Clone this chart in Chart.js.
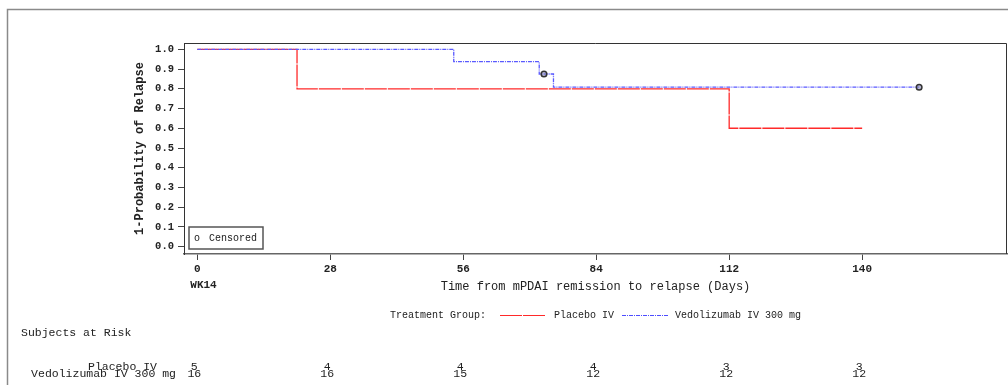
<!DOCTYPE html>
<html>
<head>
<meta charset="utf-8">
<script src="https://cdn.jsdelivr.net/npm/chart.js@4"></script>
<style>
  body { margin: 0; background: #fff; }
  #wrap { width: 1008px; height: 385px; }
</style>
</head>
<body>
<div id="wrap"><canvas id="kmChart" width="1008" height="385"></canvas></div>
<script>
// Kaplan-Meier step values
const groupNames = ['Placebo IV', 'Vedolizumab IV 300 mg'];
const placeboDays = [0, 21, 112, 140];
const placeboSurv = [1.0, 0.8, 0.6, 0.6];
const vedoDays = [0, 54, 72, 75, 152];
const vedoSurv = [1.0, 0.9375, 0.875, 0.808, 0.808];
const censorDays = [73, 152];
const censorSurv = [0.875, 0.808];

const xTicks = [0, 28, 56, 84, 112, 140];
const xTickLabels = ['0', '28', '56', '84', '112', '140'];
const yTicks = [0, 0.1, 0.2, 0.3, 0.4, 0.5, 0.6, 0.7, 0.8, 0.9, 1.0];

const atRiskPlacebo = [5, 4, 4, 4, 3, 3];
const atRiskVedo = [16, 16, 15, 12, 12, 12];

const MONO = '"Liberation Mono", "Courier New", monospace';
const INK = '#222';

function toPoints(xs, ys) {
    return xs.map((v, i) => ({ x: v, y: ys[i] }));
}

const decorations = {
    id: 'decorations',
    beforeDraw(chart) {
        const ctx = chart.ctx;
        ctx.save();
        ctx.fillStyle = '#fff';
        ctx.fillRect(0, 0, chart.width, chart.height);
        // outer page frame
        ctx.strokeStyle = '#8a8a8a';
        ctx.lineWidth = 1.5;
        ctx.beginPath();
        ctx.moveTo(7.5, chart.height);
        ctx.lineTo(7.5, 9.5);
        ctx.lineTo(chart.width, 9.5);
        ctx.stroke();
        ctx.restore();
    },
    afterDraw(chart) {
        const ctx = chart.ctx;
        const a = chart.chartArea;
        const x = chart.scales.x;
        ctx.save();

        // top and right of the plot frame
        ctx.strokeStyle = '#333';
        ctx.lineWidth = 1;
        ctx.beginPath();
        ctx.moveTo(a.left, a.top + 0.5);
        ctx.lineTo(a.right - 0.5, a.top + 0.5);
        ctx.lineTo(a.right - 0.5, a.bottom);
        ctx.stroke();

        // censored inset legend
        const bx = a.left + 5, by = a.bottom - 27;
        ctx.strokeStyle = '#555';
        ctx.lineWidth = 1.5;
        ctx.strokeRect(bx, by, 74, 22);
        ctx.fillStyle = INK;
        ctx.font = '10px ' + MONO;
        ctx.textBaseline = 'middle';
        ctx.textAlign = 'left';
        ctx.fillText('o', bx + 5, by + 11);
        ctx.fillText('Censored', bx + 20, by + 11);

        // WK14 under the 0 tick
        ctx.font = 'bold 11px ' + MONO;
        ctx.fillText('WK14', x.getPixelForValue(xTicks[0]) - 7, 285);

        // treatment group legend
        ctx.font = '10px ' + MONO;
        ctx.textAlign = 'right';
        ctx.fillText('Treatment Group:', 486, 315);
        ctx.textAlign = 'left';
        ctx.lineWidth = 1;
        ctx.strokeStyle = '#ff2a2a';
        ctx.setLineDash([22, 1]);
        ctx.beginPath();
        ctx.moveTo(500, 315.5);
        ctx.lineTo(545, 315.5);
        ctx.stroke();
        ctx.fillText(groupNames[0], 554, 315);
        ctx.strokeStyle = '#4d4dff';
        ctx.setLineDash([4, 1, 1, 1]);
        ctx.beginPath();
        ctx.moveTo(622, 315.5);
        ctx.lineTo(668, 315.5);
        ctx.stroke();
        ctx.setLineDash([]);
        ctx.fillText(groupNames[1], 675, 315);

        // subjects at risk table
        ctx.font = '11.5px ' + MONO;
        ctx.textBaseline = 'alphabetic';
        ctx.fillText('Subjects at Risk', 21, 336);
        ctx.textAlign = 'right';
        ctx.fillText(groupNames[0], 157, 369.5);
        ctx.fillText(groupNames[1], 176, 376.5);
        ctx.textAlign = 'center';
        xTicks.forEach((t, i) => {
            const px = x.getPixelForValue(t) - 3;
            ctx.fillText(String(atRiskPlacebo[i]), px, 369.5);
            ctx.fillText(String(atRiskVedo[i]), px, 376.5);
        });
        ctx.restore();
    }
};

new Chart(document.getElementById('kmChart').getContext('2d'), {
    type: 'line',
    data: {
        datasets: [
            {
                label: 'Censored',
                type: 'scatter',
                data: toPoints(censorDays, censorSurv),
                pointStyle: 'circle',
                pointRadius: 2.8,
                borderColor: '#333',
                backgroundColor: 'rgba(140,140,180,0.6)',
                pointBorderWidth: 1.5,
                order: 0,
            },
            {
                label: groupNames[1],
                data: toPoints(vedoDays, vedoSurv),
                stepped: 'before',
                borderColor: '#5a5aff',
                borderWidth: 1.3,
                borderDash: [4, 1, 1, 1],
                pointRadius: 0,
                fill: false,
                order: 1,
            },
            {
                label: groupNames[0],
                data: toPoints(placeboDays, placeboSurv),
                stepped: 'before',
                borderColor: '#ff2a2a',
                borderWidth: 1.3,
                borderDash: [22, 1],
                pointRadius: 0,
                fill: false,
                order: 2,
            },
        ],
    },
    options: {
        responsive: false,
        animation: false,
        devicePixelRatio: 1,
        layout: {
            autoPadding: false,
            padding: { top: 43, right: 1, left: 0, bottom: 0 },
        },
        plugins: {
            legend: { display: false },
            tooltip: { enabled: false },
        },
        scales: {
            x: {
                type: 'linear',
                min: -2.8,
                max: 170.5,
                afterBuildTicks: (s) => { s.ticks = xTicks.map((v) => ({ value: v })); },
                afterFit: (s) => {
                    s.height = 131;
                    s.paddingLeft = 0;
                    s.paddingRight = 0;
                },
                ticks: {
                    callback: (v) => xTickLabels[xTicks.indexOf(v)],
                    font: { family: MONO, size: 11, weight: 'bold' },
                    color: INK,
                    padding: 3,
                    maxRotation: 0,
                },
                grid: { drawOnChartArea: false, tickLength: 6, color: '#444' },
                border: { color: '#666', width: 1.5 },
                title: {
                    display: true,
                    text: 'Time from mPDAI remission to relapse (Days)',
                    font: { family: MONO, size: 12 },
                    color: INK,
                    padding: { top: 0, bottom: 90.8 },
                },
            },
            y: {
                min: -0.037,
                max: 1.032,
                afterBuildTicks: (s) => { s.ticks = yTicks.map((v) => ({ value: v })); },
                afterFit: (s) => { s.width = 184; },
                ticks: {
                    callback: (v) => v.toFixed(1),
                    font: { family: MONO, size: 10.5, weight: 'bold' },
                    color: INK,
                    padding: 4,
                },
                grid: { drawOnChartArea: false, tickLength: 6, color: '#444' },
                border: { color: '#333', width: 1 },
                title: {
                    display: true,
                    text: '1-Probability of Relapse',
                    font: { family: MONO, size: 12, weight: 'bold' },
                    color: INK,
                    padding: { top: 132.8, bottom: 0 },
                },
            },
        },
    },
    plugins: [decorations],
});
</script>
</body>
</html>
